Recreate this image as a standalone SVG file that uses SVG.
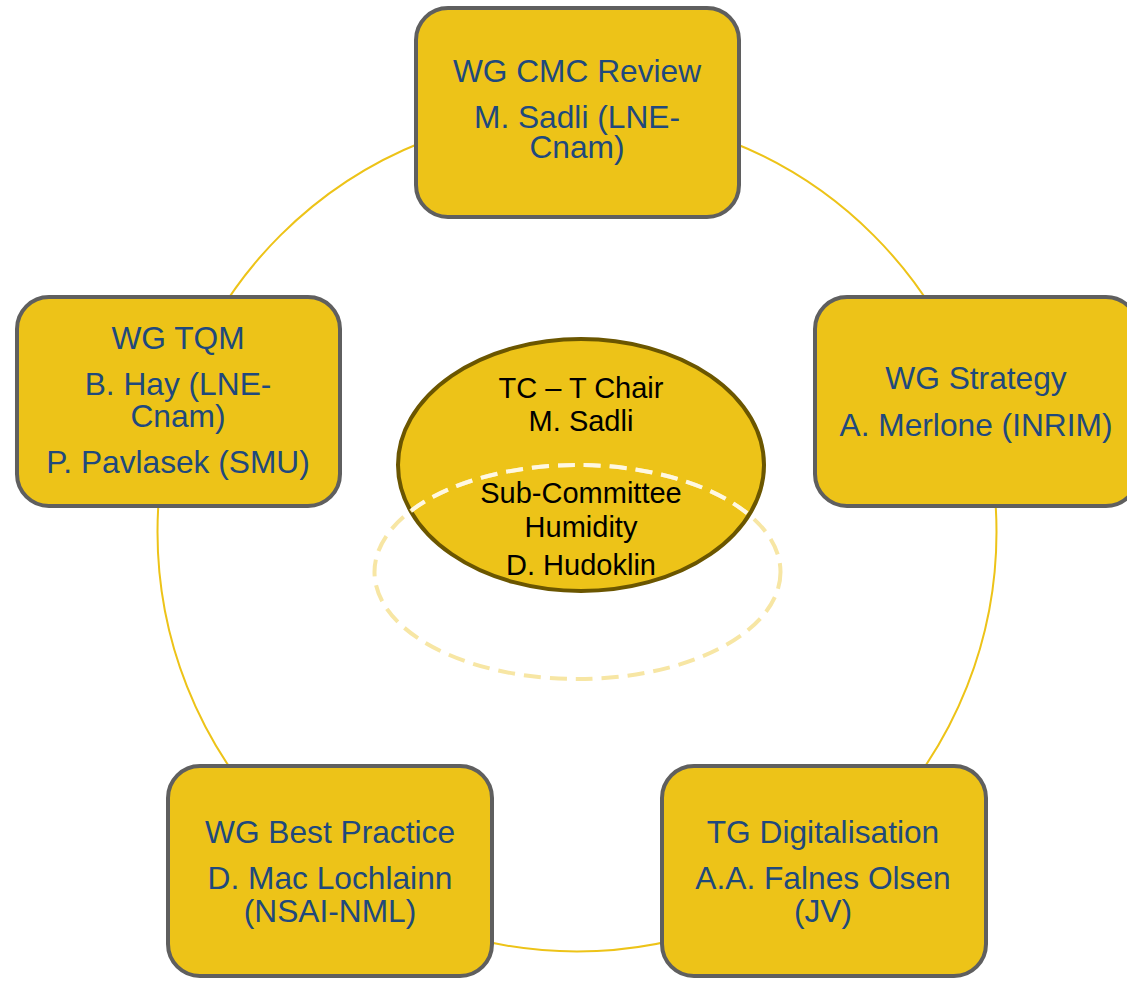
<svg xmlns="http://www.w3.org/2000/svg" width="1127" height="981" viewBox="0 0 1127 981">
<defs>
<style>
.box{fill:#EDC318;stroke:#5F5F5F;stroke-width:4}
.bt{font-family:"Liberation Sans",Arial,sans-serif;font-size:31.7px;fill:#1F497D;text-anchor:middle}
.ct{font-family:"Liberation Sans",Arial,sans-serif;font-size:29px;fill:#000;text-anchor:middle}
.ring{fill:none;stroke:#EDC318;stroke-width:2}
</style>
<clipPath id="inEll"><ellipse cx="581" cy="465" rx="182" ry="125"/></clipPath>
</defs>
<rect width="1127" height="981" fill="#fff"/>
<g id="connectors">
<circle class="ring" cx="577" cy="532" r="419.5"/>
</g>
<g id="node-cmc">
<rect class="box" x="416" y="8" width="323" height="209" rx="32"/>
<text class="bt" x="577" y="82">WG CMC Review</text>
<text class="bt" x="577" y="128">M. Sadli (LNE-</text>
<text class="bt" x="577" y="158">Cnam)</text>
</g>
<g id="node-tqm">
<rect class="box" x="17" y="297" width="323" height="209" rx="32"/>
<text class="bt" x="178" y="349">WG TQM</text>
<text class="bt" x="178" y="395">B. Hay (LNE-</text>
<text class="bt" x="178" y="427">Cnam)</text>
<text class="bt" x="178" y="473">P. Pavlasek (SMU)</text>
</g>
<g id="node-strategy">
<rect class="box" x="815" y="297" width="323" height="209" rx="32"/>
<text class="bt" x="976" y="389">WG Strategy</text>
<text class="bt" x="976" y="436">A. Merlone (INRIM)</text>
</g>
<g id="node-bestpractice">
<rect class="box" x="168" y="766" width="324" height="210" rx="32"/>
<text class="bt" x="330" y="843">WG Best Practice</text>
<text class="bt" x="330" y="889">D. Mac Lochlainn</text>
<text class="bt" x="330" y="922">(NSAI-NML)</text>
</g>
<g id="node-digital">
<rect class="box" x="662" y="766" width="324" height="210" rx="32"/>
<text class="bt" x="823" y="843">TG Digitalisation</text>
<text class="bt" x="823" y="889">A.A. Falnes Olsen</text>
<text class="bt" x="823" y="922">(JV)</text>
</g>
<g id="node-chair">
<ellipse cx="581" cy="465" rx="183" ry="126" fill="#EDC318" stroke="#6B5600" stroke-width="4"/>
<text class="ct" x="581" y="398">TC – T Chair</text>
<text class="ct" x="581" y="431">M. Sadli</text>
</g>
<g id="node-humidity">
<ellipse cx="577.5" cy="572" rx="203" ry="107" fill="none" stroke="#F7E6A4" stroke-width="4" stroke-dasharray="17 9"/>
<ellipse cx="577.5" cy="572" rx="203" ry="107" fill="none" stroke="#FFF8E2" stroke-width="4" stroke-dasharray="17 9" clip-path="url(#inEll)"/>
<text class="ct" x="581" y="503">Sub-Committee</text>
<text class="ct" x="581" y="537">Humidity</text>
<text class="ct" x="581" y="575">D. Hudoklin</text>
</g>
</svg>
